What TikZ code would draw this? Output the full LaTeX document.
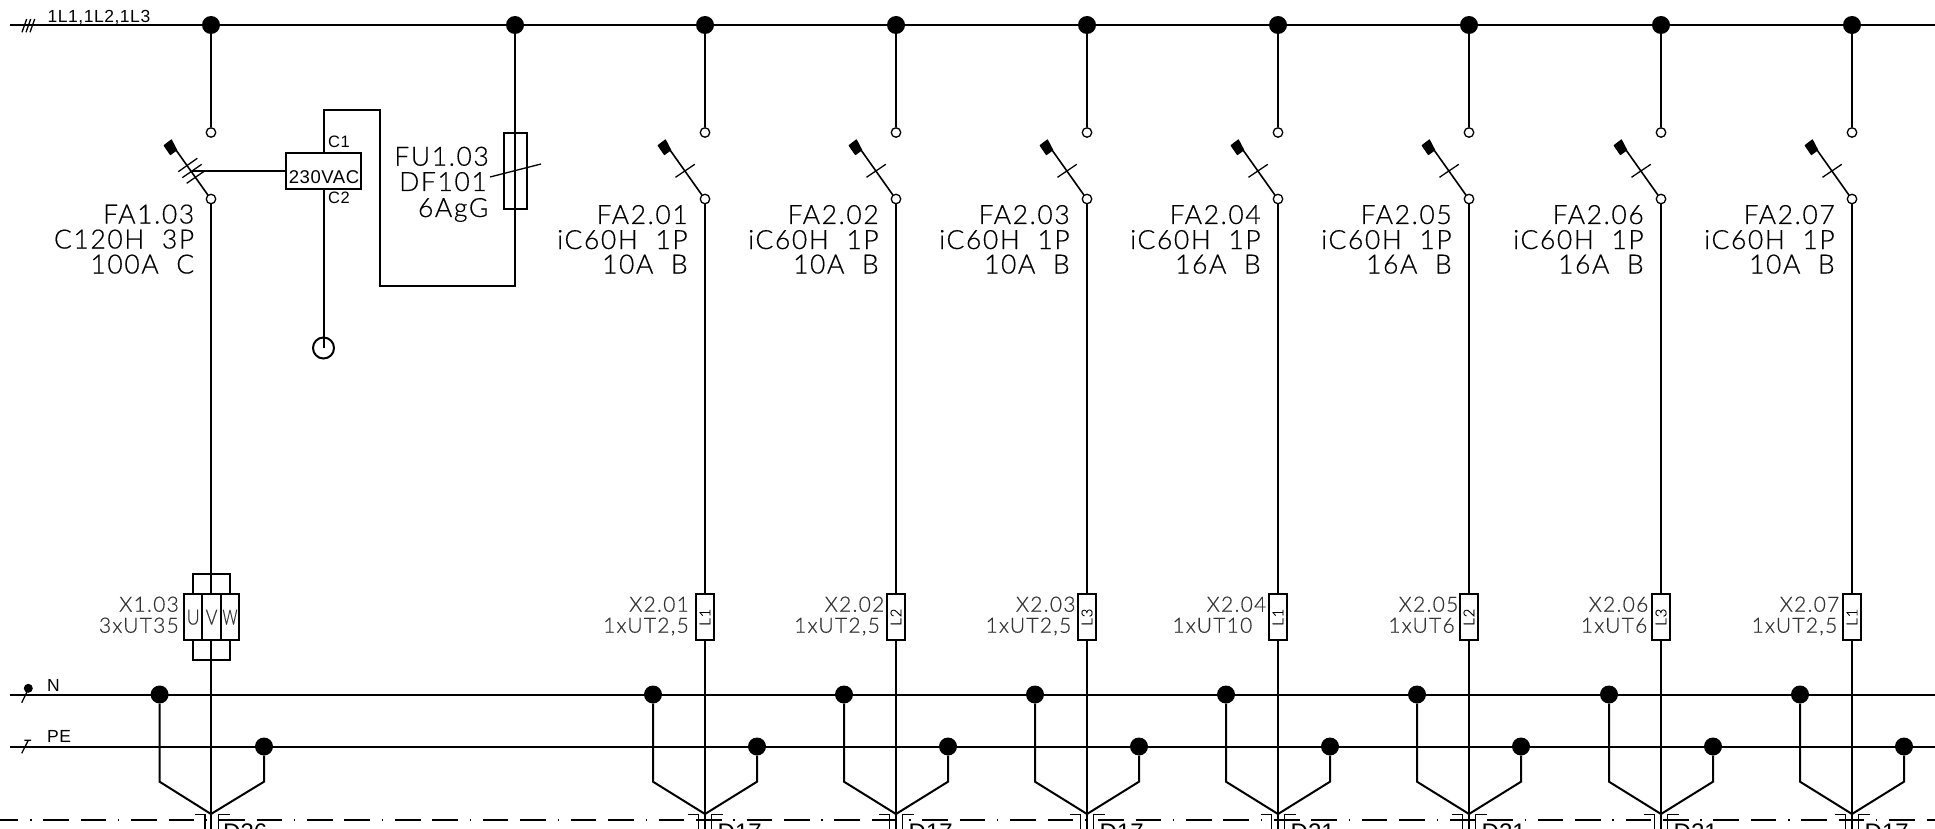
\documentclass[tikz,border=0pt]{standalone}
\usepackage{graphicx}
\usepackage{fontspec}
\setmainfont{Liberation Sans}
\newfontfamily\thinf[LetterSpace=6,FakeBold=0.5]{Lato Light}
\newfontfamily\smallf[LetterSpace=3]{Liberation Sans}
\tikzset{
  wire/.style={line width=2pt},
  buswire/.style={line width=2pt},
  fine/.style={line width=1.3pt},
  joint/.style={circle,fill=black,draw=none,minimum size=18pt,inner sep=0pt},
  term/.style={circle,fill=white,draw=black,line width=1.3pt,minimum size=9.5pt,inner sep=0pt},
  biglab/.style={font=\thinf\fontsize{26.5}{27}\selectfont,anchor=base east,inner sep=0pt,xshift=1.5pt},
  midlab/.style={font=\thinf\fontsize{21}{22}\selectfont,text=black!80,anchor=base east,inner sep=0pt,xshift=1.5pt},
  smalllab/.style={font=\smallf\fontsize{17.5}{18}\selectfont,anchor=base west,inner sep=0pt},
  cablelab/.style={font=\fontsize{24}{25}\selectfont,anchor=base west,inner sep=0pt},
  cell/.style={draw=black,fill=white,line width=2pt,inner sep=0pt},
  celltxt/.style={font=\thinf\fontsize{21}{21}\selectfont,text=black!80},
}
\newcommand{\breaker}[2]{% tag, x
  \filldraw[black,line width=1.2pt,line join=round] (#2-46.8,145.5) -- (#2-39.6,140) -- (#2-34.4,150) -- (#2-40.6,154.5) -- cycle;
  \coordinate (hs#1) at (#2-35,150);
  \draw[line width=1.6pt] (hs#1) -- (#2-3.1,195);
}
\newcommand{\feeder}[9]{% tag, x, name, amps, phase, cable, off1, off2, gland
  \node[joint] (t#1) at (#2,25) {};
  \node[term] (a#1) at (#2,132.5) {};
  \node[term] (b#1) at (#2,199) {};
  \draw[wire] (t#1) -- (a#1);
  \breaker{#1}{#2}
  \coordinate (sa#1) at (#2-29.5,177.3);
  \coordinate (sb#1) at (#2-10.2,164.3);
  \draw[fine] (sa#1) -- (sb#1);
  \node[biglab] (fa#1) at (#2-18.6,224) {#3};
  \node[biglab] (tp#1) at (#2-18.6,249) {iC60H\ \ 1P};
  \node[biglab] (am#1) at (#2-18.6,273.5) {#4};
  \coordinate (e#1) at (#2,835);
  \draw[wire] (b#1) -- (e#1);
  \node[cell,minimum width=18.6pt,minimum height=45.7pt] (x#1) at (#2,617.2) {};
  \node[font=\thinf\fontsize{15}{15}\selectfont,rotate=90,inner sep=0pt] (ph#1) at (x#1.center) {#5};
  \node[midlab] (xa#1) at (#2+#7,611.7) {X2.#1};
  \node[midlab] (xb#1) at (#2+#8,632.7) {#6};
  \node[joint] (n#1) at (#2-52,694.5) {};
  \node[joint] (p#1) at (#2+52,746.5) {};
  \coordinate (fl#1) at (#2-52,781.7);
  \coordinate (fc#1) at (#2,814);
  \coordinate (fr#1) at (#2+52,781.7);
  \draw[wire] (n#1) -- (fl#1) -- (fc#1) -- (fr#1) -- (p#1);
  \draw[fine] (#2-17.5,814.7) -- (#2-6.5,814.7) -- (#2-6.5,829);
  \draw[fine] (#2+17.5,814.7) -- (#2+6.5,814.7) -- (#2+6.5,829);
  \node[cablelab] (g#1) at (#2+12.5,840) {#9};
}
\begin{document}
\begin{tikzpicture}[x=1pt,y=-1pt]
\useasboundingbox (0,0) rectangle (1935,829);
% dash-dotted boundary
\coordinate (dl) at (-44.6,820);
\coordinate (dr) at (1935,820);
\draw[line width=1.5pt,dash pattern=on 25.6pt off 11.8pt on 25.6pt off 11.8pt on 1.3pt off 11.8pt] (dl) -- (dr);
% buses
\coordinate (busL) at (10,25);  \coordinate (busR) at (1935,25);
\coordinate (nL) at (10,695);   \coordinate (nR) at (1935,695);
\coordinate (peL) at (10,747);  \coordinate (peR) at (1935,747);
\draw[buswire] (busL) -- (busR);
\draw[buswire] (nL) -- (nR);
\draw[buswire] (peL) -- (peR);
% bus marks
\draw[fine] (22,32.3) -- (26.7,19) (26,32.3) -- (30.7,19) (30,32.3) -- (34.7,19);
\draw[fine] (21.7,702.7) -- (29,687.7);
\fill[black] (28.3,688.3) circle (4.5pt);
\draw[fine] (21.7,753.3) -- (28.3,740.3) (24.3,740.3) -- (31,740.3);
\node[smalllab] (lbus) at (47.5,22.7) {1L1,1L2,1L3};
\node[smalllab] (ln) at (47,691.5) {N};
\node[smalllab] (lpe) at (47,742.5) {PE};
% main breaker column
\node[joint] (t0) at (211,25) {};
\node[term] (a0) at (211,132.5) {};
\node[term] (b0) at (211,199) {};
\draw[wire] (t0) -- (a0);
\breaker{0}{211}
\draw[fine] (178.3,171.7) -- (197.3,158.3) (182.3,177.7) -- (201.7,164.3) (186.7,183.3) -- (205,170.7);
\coordinate (act) at (191.7,171);
\node[draw=black,line width=2pt,minimum width=75pt,minimum height=35.7pt,inner sep=0pt] (vac) at (323.5,171) {};
\node[font=\smallf\fontsize{18.5}{19}\selectfont,anchor=base,inner sep=0pt] (vact) at (324,183.3) {230VAC};
\draw[wire] (act) -- (act -| vac.west);
\node[font=\smallf\fontsize{16.5}{17}\selectfont,anchor=base,inner sep=0pt] (c1) at (339,147.7) {C1};
\node[font=\smallf\fontsize{16.5}{17}\selectfont,anchor=base,inner sep=0pt] (c2) at (339,204) {C2};
\node[biglab] (fa0) at (192.9,223.5) {FA1.03};
\node[biglab] (tp0) at (192.9,248.5) {C120H\ \ 3P};
\node[biglab] (am0) at (192.9,273.5) {100A\ \ C};
\coordinate (e0) at (211,835);
\draw[wire] (b0) -- (e0);
% terminal block X1.03
\node[draw=black,line width=2pt,minimum width=36.7pt,minimum height=86pt,inner sep=0pt] (x0o) at (211.6,617) {};
\coordinate (xl) at (211,570);
\coordinate (xh) at (211,665);
\draw[wire] (xl) -- (xh);
\node[cell,minimum width=18.3pt,minimum height=45.7pt,celltxt] (xu) at (193.2,617.2) {\scalebox{.85}[1]{U}};
\node[cell,minimum width=18.7pt,minimum height=45.7pt,celltxt] (xv) at (211.6,617.2) {\scalebox{.85}[1]{V}};
\node[cell,minimum width=18.0pt,minimum height=45.7pt,celltxt] (xw) at (230,617.2) {\scalebox{.7}[1]{W}};
\node[midlab] (xa0) at (177.5,611.7) {X1.03};
\node[midlab] (xb0) at (177.5,632.7) {3xUT35};
\node[joint] (n0) at (159.6,694.5) {};
\node[joint] (p0) at (264,746.5) {};
\coordinate (fl0) at (159.6,781.7);
\coordinate (fc0) at (211,814);
\coordinate (fr0) at (264,781.7);
\draw[wire] (n0) -- (fl0) -- (fc0) -- (fr0) -- (p0);
\draw[fine] (194.5,814.7) -- (205,814.7) -- (205,829);
\draw[fine] (229.5,814.7) -- (218.5,814.7) -- (218.5,829);
\node[cablelab] (g0) at (223,840) {D36};
% control circuit and fuse
\node[joint] (tf) at (515,25) {};
\coordinate (f1) at (515,286);
\coordinate (f2) at (380,286);
\coordinate (f3) at (380,110);
\coordinate (f4) at (323.5,110);
\draw[wire] (tf) -- (f1) -- (f2) -- (f3) -- (f4) -- (vac.north);
\node[circle,draw=black,line width=2pt,minimum size=21pt,inner sep=0pt] (gnd) at (323.5,348) {};
\draw[wire] (vac.south) -- (gnd.center);
\node[draw=black,line width=2pt,minimum width=23pt,minimum height=76pt,inner sep=0pt] (fuse) at (515.5,171) {};
\coordinate (fsa) at (490,177);
\coordinate (fsb) at (541,164);
\draw[fine] (fsa) -- (fsb);
\node[biglab] (fu1) at (487.5,165.7) {FU1.03};
\node[biglab] (fu2) at (485.5,191) {DF101};
\node[biglab] (fu3) at (487,217) {6AgG};
% feeders
\feeder{01}{705}{FA2.01}{10A\ \ B}{L1}{1xUT2,5}{-17.5}{-17.5}{D17}
\feeder{02}{896}{FA2.02}{10A\ \ B}{L2}{1xUT2,5}{-13}{-17.4}{D17}
\feeder{03}{1087}{FA2.03}{10A\ \ B}{L3}{1xUT2,5}{-12.8}{-17}{D17}
\feeder{04}{1278}{FA2.04}{16A\ \ B}{L1}{1xUT10}{-13}{-27}{D21}
\feeder{05}{1469}{FA2.05}{16A\ \ B}{L2}{1xUT6}{-12}{-15.6}{D21}
\feeder{06}{1661}{FA2.06}{16A\ \ B}{L3}{1xUT6}{-14}{-15}{D21}
\feeder{07}{1852}{FA2.07}{10A\ \ B}{L1}{1xUT2,5}{-14}{-16}{D17}
\end{tikzpicture}
\end{document}
